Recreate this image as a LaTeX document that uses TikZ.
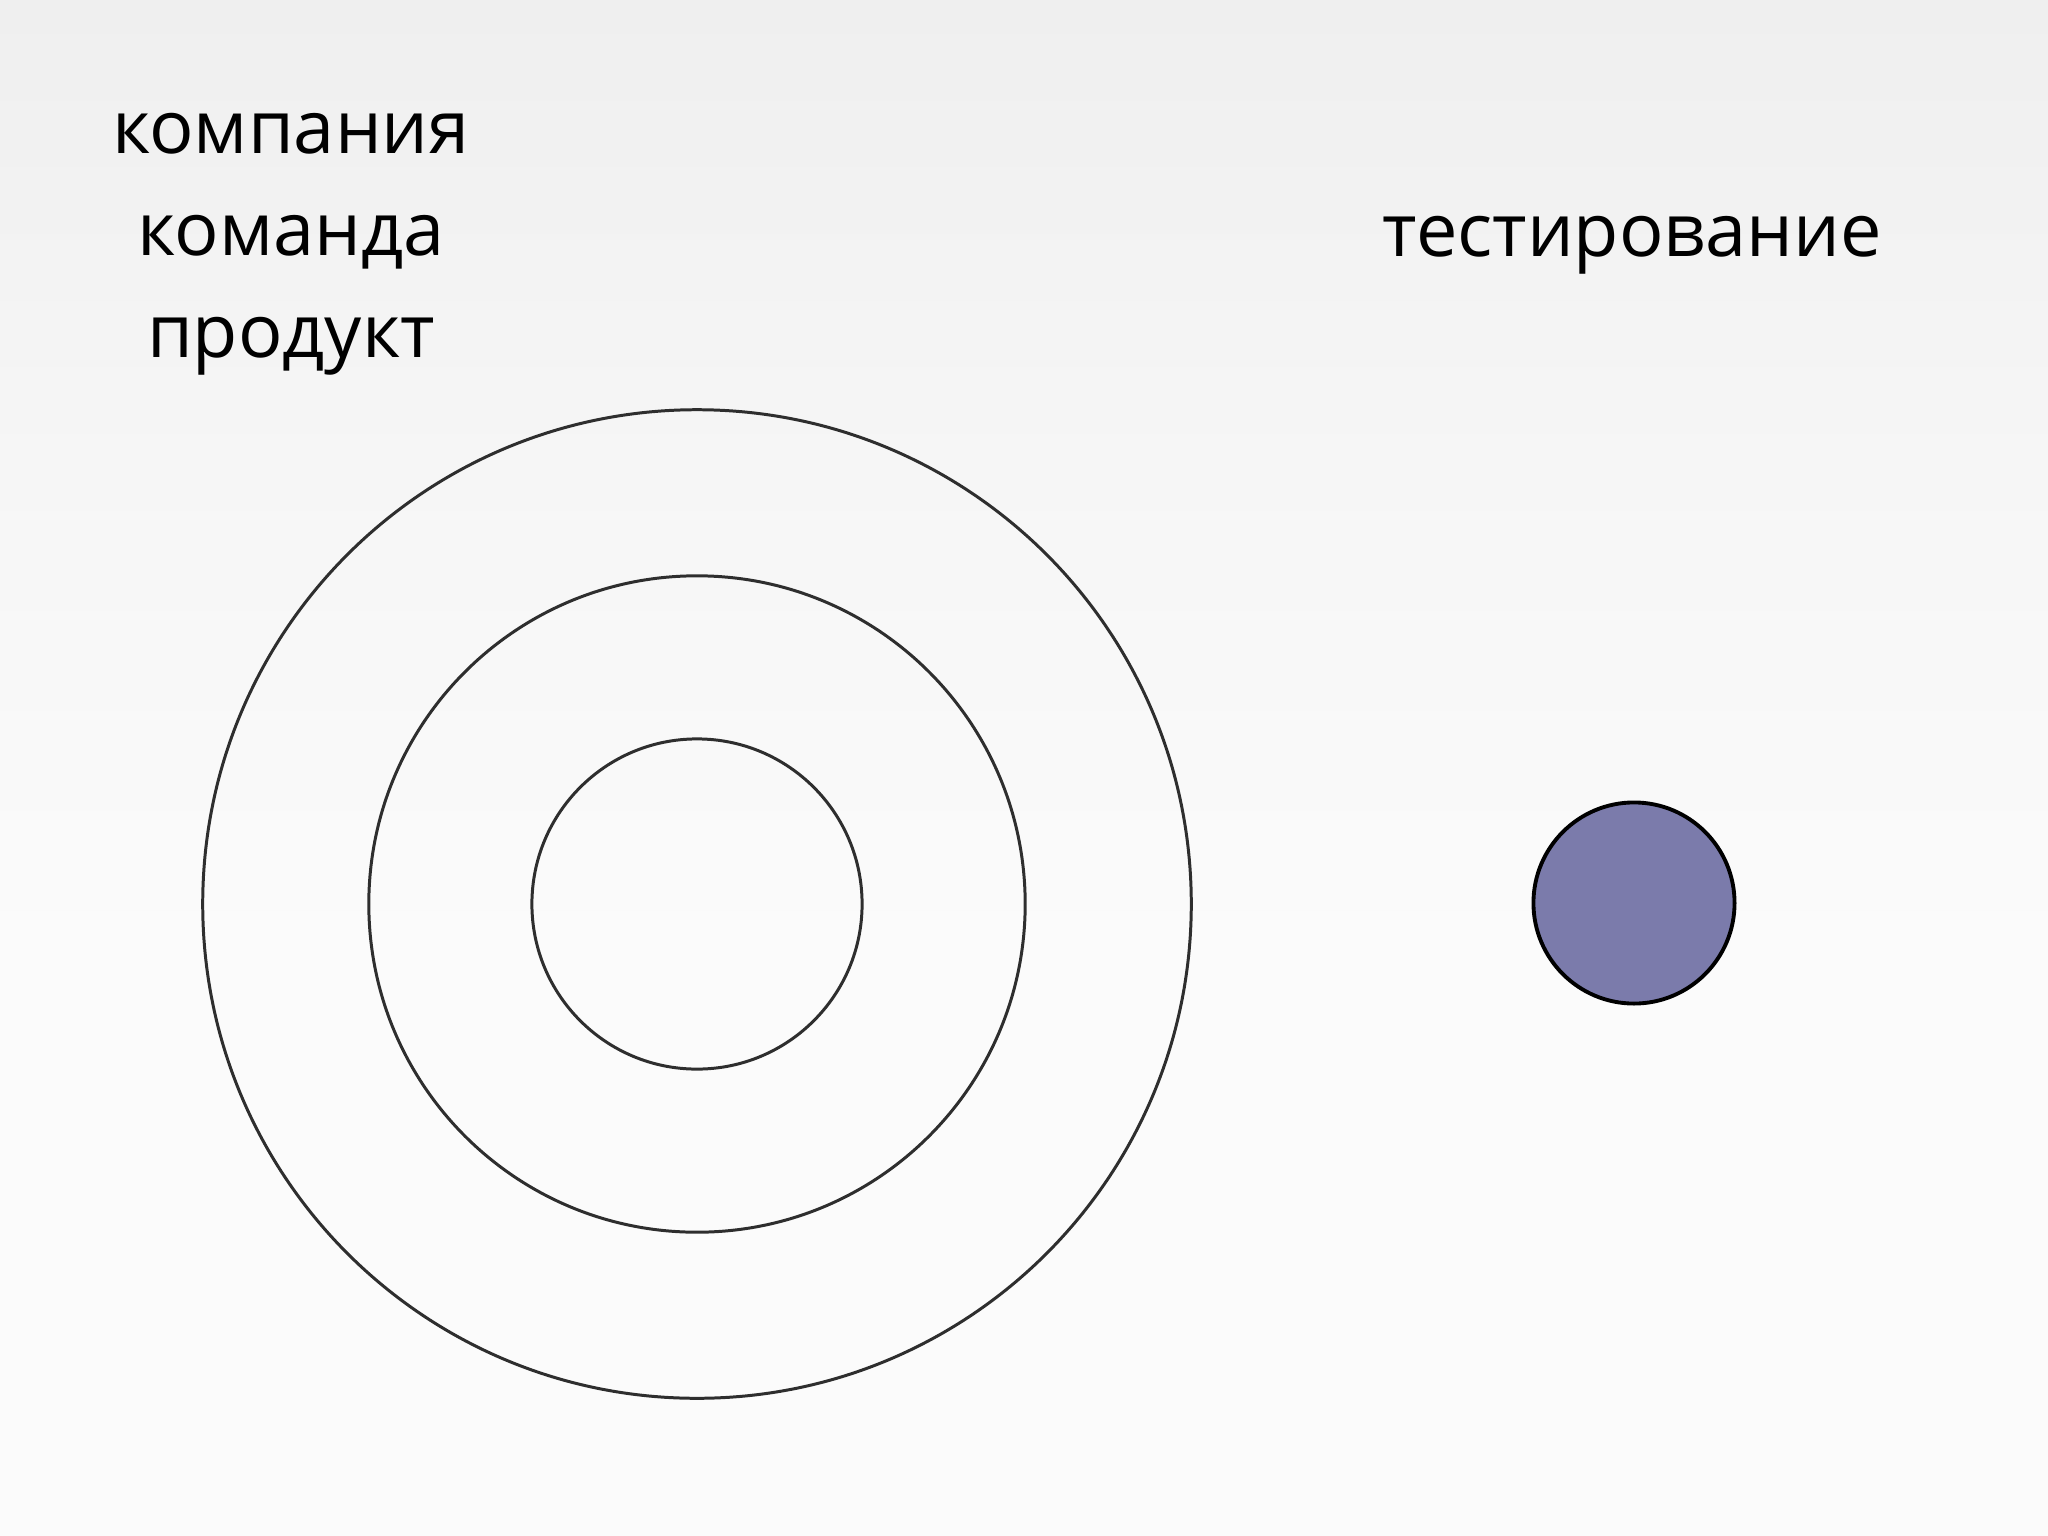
\documentclass[tikz,border=0pt]{standalone}
\usepackage{fontspec}
\setmainfont{Open Sans}
\definecolor{ringcol}{HTML}{2E2E2E}
\definecolor{dotfill}{HTML}{7B7BAB}
\definecolor{bgtop}{HTML}{EFEFEF}
\definecolor{bgmid}{HTML}{FBFBFB}
\begin{document}
\begin{tikzpicture}[x=0.01cm,y=-0.01cm,
  ring/.style={circle, draw=ringcol, line width=0.85pt, inner sep=0pt},
  dot/.style={circle, draw=black, fill=dotfill, line width=1.1pt, inner sep=0pt},
  lbl/.style={anchor=base, font=\fontsize{21pt}{26pt}\selectfont, inner sep=0pt}]
\useasboundingbox (0,0) rectangle (2048,1536);
\shade[top color=bgtop, bottom color=bgmid, middle color=bgmid!60!bgtop] (0,0) rectangle (2048,960);
\fill[bgmid] (0,959) rectangle (2048,1536);
\node[ring, minimum size=9.88cm] (outer) at (697,904) {};
\node[ring, minimum size=6.56cm] (middle) at (697,904) {};
\node[ring, minimum size=3.30cm] (inner) at (697,904) {};
\node[dot, minimum size=2.01cm] (test) at (1634,903) {};
\node[lbl] (company) at (291,153) {компания};
\node[lbl] (team) at (291,255) {команда};
\node[lbl] (product) at (291,357) {продукт};
\node[lbl] (testing) at (1632,256) {тестирование};
\end{tikzpicture}
\end{document}
